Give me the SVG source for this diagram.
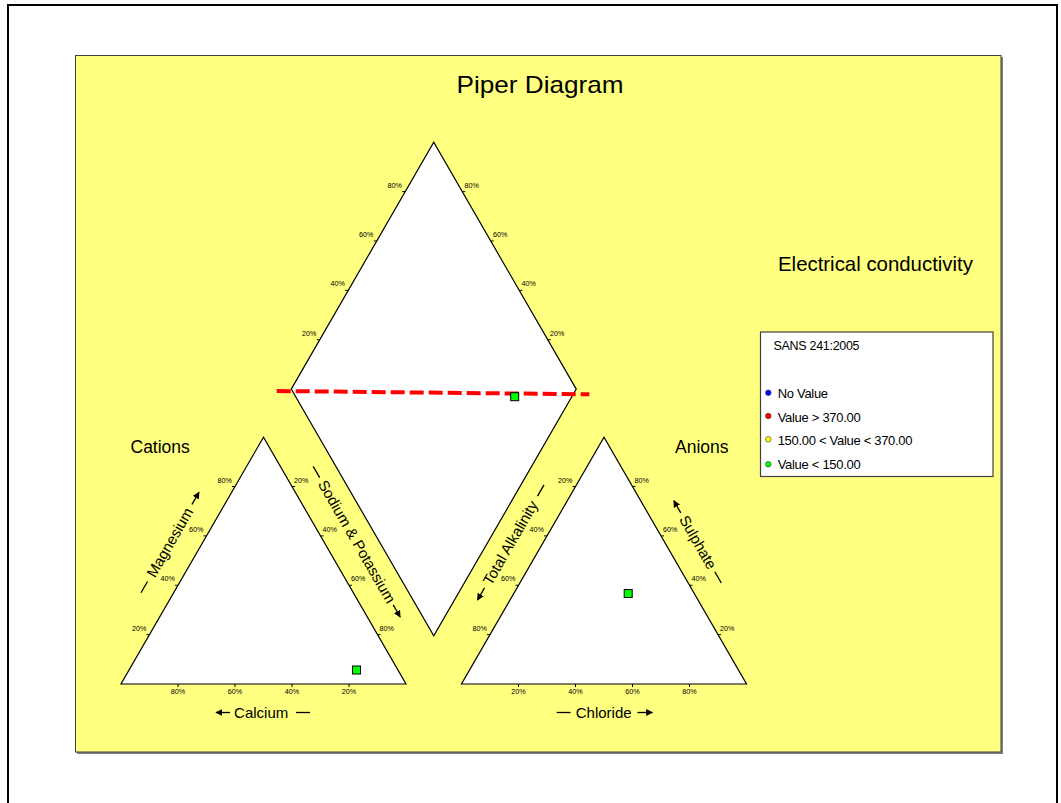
<svg xmlns="http://www.w3.org/2000/svg" width="1061" height="803" viewBox="0 0 1061 803">
<defs>
<style>
text{font-family:"Liberation Sans",Arial,sans-serif;fill:#000}
.tk{font-size:7.2px;fill:#1a1a1a}
.ax{font-size:15px}
.tri{fill:#fff;stroke:#000;stroke-width:1.2}
.tick{stroke:#000;stroke-width:1}
.ln{stroke:#000;stroke-width:1.3;fill:none}
.pt{fill:#00ff00;stroke:#000;stroke-width:1}
.lg{font-size:13px}
</style>
<marker id="ah" viewBox="0 0 10 10" refX="9" refY="5" markerWidth="7" markerHeight="7" markerUnits="userSpaceOnUse" orient="auto">
<path d="M0,0 L10,5 L0,10 z" fill="#000"/>
</marker>
</defs>
<rect x="0" y="0" width="1061" height="803" fill="#fff"/>
<rect x="8" y="5" width="1049" height="830" fill="none" stroke="#000" stroke-width="2"/>
<g id="panel">
<rect x="77" y="57" width="926" height="697" fill="#808080"/>
<rect x="75.5" y="55.5" width="925.5" height="696.5" fill="#ffff80" stroke="#404040" stroke-width="1"/>
</g>
<text x="456.5" y="93" font-size="24" textLength="167" lengthAdjust="spacingAndGlyphs">Piper Diagram</text>
<text x="778" y="271" font-size="20.4">Electrical conductivity</text>
<text x="130.5" y="453.3" font-size="17.5">Cations</text>
<text x="675" y="453.3" font-size="17.5">Anions</text>

<g id="diamond">
<polygon class="tri" points="291.25,389.1 433.75,142.28 576.25,389.1 433.75,635.92"/>
<path class="tick" d="M316.75,339.74h3M345.25,290.37h3M373.75,241.01h3M402.25,191.64h3M462.25,191.64h3M490.75,241.01h3M519.25,290.37h3M547.75,339.74h3"/>
<g class="tk" text-anchor="end">
<text x="316.5" y="335.7">20%</text><text x="345" y="286.4">40%</text><text x="373.5" y="237">60%</text><text x="402" y="187.6">80%</text>
</g>
<g class="tk">
<text x="464.5" y="187.6">80%</text><text x="493" y="237">60%</text><text x="521.5" y="286.4">40%</text><text x="550" y="335.7">20%</text>
</g>
</g>

<g id="cations">
<polygon class="tri" points="121,684 406,684 263.5,437.18"/>
<path class="tick" d="M146.5,634.64h3M175,585.27h3M203.5,535.91h3M232,486.55h3M292,486.55h3M320.5,535.91h3M349,585.27h3M377.5,634.64h3M178,684v3M235,684v3M292,684v3M349,684v3"/>
<g class="tk" text-anchor="end">
<text x="146.3" y="630.6">20%</text><text x="174.8" y="581.3">40%</text><text x="203.3" y="531.9">60%</text><text x="231.8" y="482.6">80%</text>
</g>
<g class="tk">
<text x="294" y="482.6">20%</text><text x="322.5" y="531.9">40%</text><text x="351" y="581.3">60%</text><text x="379.5" y="630.6">80%</text>
</g>
<g class="tk" text-anchor="middle">
<text x="178" y="693.5">80%</text><text x="235" y="693.5">60%</text><text x="292" y="693.5">40%</text><text x="349" y="693.5">20%</text>
</g>
<rect class="pt" x="352.5" y="666" width="8" height="8"/>
</g>

<g id="anions">
<polygon class="tri" points="461.5,684 746.5,684 604,437.18"/>
<path class="tick" d="M487,634.64h3M515.5,585.27h3M544,535.91h3M572.5,486.55h3M632.5,486.55h3M661,535.91h3M689.5,585.27h3M718,634.64h3M518.5,684v3M575.5,684v3M632.5,684v3M689.5,684v3"/>
<g class="tk" text-anchor="end">
<text x="487" y="630.6">80%</text><text x="515.5" y="581.3">60%</text><text x="544" y="531.9">40%</text><text x="572.5" y="482.6">20%</text>
</g>
<g class="tk">
<text x="634.5" y="482.6">80%</text><text x="663" y="531.9">60%</text><text x="691.5" y="581.3">40%</text><text x="720" y="630.6">20%</text>
</g>
<g class="tk" text-anchor="middle">
<text x="518.5" y="693.5">20%</text><text x="575.5" y="693.5">40%</text><text x="632.5" y="693.5">60%</text><text x="689.5" y="693.5">80%</text>
</g>
<rect class="pt" x="624.2" y="589.5" width="8" height="8"/>
</g>

<g id="connectors">
<line x1="276.7" y1="391" x2="589.3" y2="394.3" stroke="#ff0000" stroke-width="4" stroke-dasharray="14 5"/>
</g>
<rect class="pt" x="510.7" y="392.7" width="8" height="8"/>

<g id="axis-labels">
<g>
<line class="ln" x1="230" y1="712.5" x2="216" y2="712.5" marker-end="url(#ah)"/>
<text class="ax" x="261.2" y="717.5" text-anchor="middle">Calcium</text>
<line class="ln" x1="296" y1="712.5" x2="310" y2="712.5"/>
</g>
<g>
<line class="ln" x1="556.7" y1="712.5" x2="570.5" y2="712.5"/>
<text class="ax" x="603.7" y="717.5" text-anchor="middle">Chloride</text>
<line class="ln" x1="637.5" y1="712.5" x2="652.5" y2="712.5" marker-end="url(#ah)"/>
</g>
<g transform="translate(170,542.5) rotate(-60)">
<line class="ln" x1="-58" y1="0" x2="-45" y2="0"/>
<text class="ax" x="0" y="5" text-anchor="middle">Magnesium</text>
<line class="ln" x1="44" y1="0" x2="58" y2="0" marker-end="url(#ah)"/>
</g>
<g transform="translate(356.7,541.7) rotate(60)">
<line class="ln" x1="-87" y1="0" x2="-74" y2="0"/>
<text class="ax" x="0" y="5" text-anchor="middle">Sodium &amp; Potassium</text>
<line class="ln" x1="73" y1="0" x2="87" y2="0" marker-end="url(#ah)"/>
</g>
<g transform="translate(511,542) rotate(-60)">
<line class="ln" x1="-53" y1="0" x2="-67" y2="0" marker-end="url(#ah)"/>
<text class="ax" x="-1" y="5" text-anchor="middle">Total Alkalinity</text>
<line class="ln" x1="53" y1="0" x2="66" y2="0"/>
</g>
<g transform="translate(697.8,542.3) rotate(60)">
<line class="ln" x1="-34" y1="0" x2="-48" y2="0" marker-end="url(#ah)"/>
<text class="ax" x="0" y="5" text-anchor="middle">Sulphate</text>
<line class="ln" x1="34" y1="0" x2="47" y2="0"/>
</g>
</g>

<g id="legend">
<rect x="760.5" y="332" width="232.5" height="144.5" fill="#fff" stroke="#404040" stroke-width="1.2"/>
<text x="773.5" y="350" font-size="12.5" letter-spacing="-0.3">SANS 241:2005</text>
<circle cx="768.3" cy="392.7" r="2.8" fill="#0000ff" stroke="#333" stroke-width="0.6"/>
<circle cx="768.3" cy="416" r="2.8" fill="#ff0000" stroke="#333" stroke-width="0.6"/>
<circle cx="768.3" cy="439.3" r="2.8" fill="#ffff00" stroke="#333" stroke-width="0.6"/>
<circle cx="768.3" cy="464.3" r="2.8" fill="#00ff00" stroke="#333" stroke-width="0.6"/>
<g class="lg" letter-spacing="-0.3">
<text x="777.7" y="398">No Value</text>
<text x="777.7" y="421.5">Value &gt; 370.00</text>
<text x="777.7" y="445">150.00 &lt; Value &lt; 370.00</text>
<text x="777.7" y="469">Value &lt; 150.00</text>
</g>
</g>
</svg>
